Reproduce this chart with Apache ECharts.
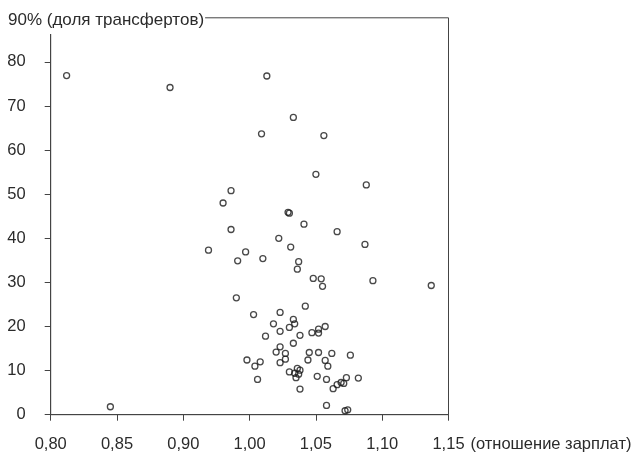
<!DOCTYPE html>
<html>
<head>
<meta charset="utf-8">
<script src="https://cdn.jsdelivr.net/npm/echarts@6/dist/echarts.min.js"></script>
<style>
html,body{margin:0;padding:0;background:#fff;}
#chart{width:638px;height:454px;}
</style>
</head>
<body>
<div id="chart"></div>
<script>
// Tick labels as printed in the source (note: no "0,95" label in the original)
var xTickLabels = ['0,80', '0,85', '0,90', '1,00', '1,05', '1,10', '1,15'];
var yTitle = '90% (доля трансфертов)';
var xName = '(отношение зарплат)';

// Wage ratio (x, on the axis scale whose ticks run 0.85 ... 1.15) and transfer share (y, %)
var wageRatio = [
  0.862, 0.940, 1.013, 1.033, 1.009, 1.056, 1.050, 1.088, 0.986, 0.980,
  1.029, 1.030, 1.041, 0.986, 1.066, 1.022, 1.087, 1.031, 0.969, 0.997,
  0.991, 1.010, 1.037, 1.036, 1.048, 1.054, 1.055, 1.093, 1.137, 0.990,
  1.042, 1.003, 1.023, 1.033, 1.034, 1.018, 1.030, 1.023, 1.012, 1.038,
  1.047, 1.052, 1.052, 1.057, 1.033, 1.023, 1.020, 1.027, 1.045, 1.052,
  1.062, 1.076, 0.998, 1.004, 1.008, 1.023, 1.027, 1.044, 1.057, 1.059,
  1.036, 1.038, 1.030, 1.034, 1.037, 1.035, 1.006, 1.051, 1.058, 1.038,
  1.063, 1.066, 1.069, 1.071, 1.073, 1.082, 1.058, 1.072, 1.074, 0.895
];
var transferShare = [
  76.9, 74.2, 76.8, 67.4, 63.7, 63.3, 54.5, 52.1, 50.8, 48.0,
  45.9, 45.7, 43.2, 42.0, 41.5, 40.0, 38.6, 38.0, 37.3, 36.9,
  34.9, 35.4, 34.7, 33.0, 30.9, 30.8, 29.1, 30.4, 29.3, 26.5,
  24.6, 22.7, 23.2, 21.6, 20.6, 20.6, 19.8, 18.9, 17.8, 18.0,
  18.6, 19.4, 18.5, 20.0, 16.2, 15.4, 14.2, 13.9, 14.1, 14.1,
  13.9, 13.5, 12.4, 11.0, 12.0, 11.8, 12.6, 12.4, 12.3, 11.0,
  10.5, 10.1, 9.7, 9.4, 9.2, 8.4, 8.0, 8.7, 8.0, 5.8,
  5.9, 6.8, 7.3, 7.1, 8.4, 8.3, 2.1, 0.9, 1.1, 1.8
];

var points = wageRatio.map(function (x, i) { return [x, transferShare[i]]; });

var FONT = '"Liberation Sans", Arial, sans-serif';
var FS = 16.5;
var TEXT = '#2b2b2b';
var LINE = '#444';

var chart = echarts.init(document.getElementById('chart'), null, {renderer: 'canvas'});
chart.setOption({
  animation: false,
  backgroundColor: '#fff',
  title: {
    text: yTitle,
    left: 8,
    top: 12,
    padding: [0, 1, 5, 0],
    backgroundColor: '#fff',
    textStyle: {fontFamily: FONT, fontSize: 17, fontWeight: 'normal', color: TEXT}
  },
  grid: {
    left: 50.7, right: 189.5, top: 17.8, bottom: 39.3,
    outerBoundsMode: 'none',
    containLabel: false,
    show: true, borderColor: LINE, borderWidth: 1, backgroundColor: 'transparent'
  },
  xAxis: {
    type: 'value',
    min: 0.85, max: 1.15, interval: 0.05,
    name: xName,
    nameLocation: 'end',
    nameGap: 18,
    nameTextStyle: {fontFamily: FONT, fontSize: FS, color: TEXT, verticalAlign: 'top', padding: [21, 0, 0, 0]},
    axisLine: {show: true, lineStyle: {color: LINE, width: 1}},
    axisTick: {show: true, inside: false, length: 6, lineStyle: {color: LINE}},
    splitLine: {show: false},
    axisLabel: {
      margin: 21,
      fontFamily: FONT, fontSize: FS, color: TEXT,
      showMinLabel: true, showMaxLabel: true,
      formatter: function (v) {
        var i = Math.round((v - 0.85) / 0.05);
        return xTickLabels[i] !== undefined ? xTickLabels[i] : '';
      }
    }
  },
  yAxis: {
    type: 'value',
    min: 0, max: 90, interval: 10,
    axisLine: {show: true, lineStyle: {color: LINE, width: 1}},
    axisTick: {show: true, inside: false, length: 6, lineStyle: {color: LINE}},
    splitLine: {show: false},
    axisLabel: {
      margin: 25,
      fontFamily: FONT, fontSize: FS, color: TEXT,
      formatter: function (v) { return v >= 90 ? '' : String(v); }
    }
  },
  series: [{
    type: 'scatter',
    data: points,
    symbol: 'circle',
    symbolSize: 6,
    itemStyle: {color: 'rgba(0,0,0,0)', borderColor: '#1a1a1a', borderWidth: 1.3},
    emphasis: {disabled: true}
  }]
});
</script>
</body>
</html>
